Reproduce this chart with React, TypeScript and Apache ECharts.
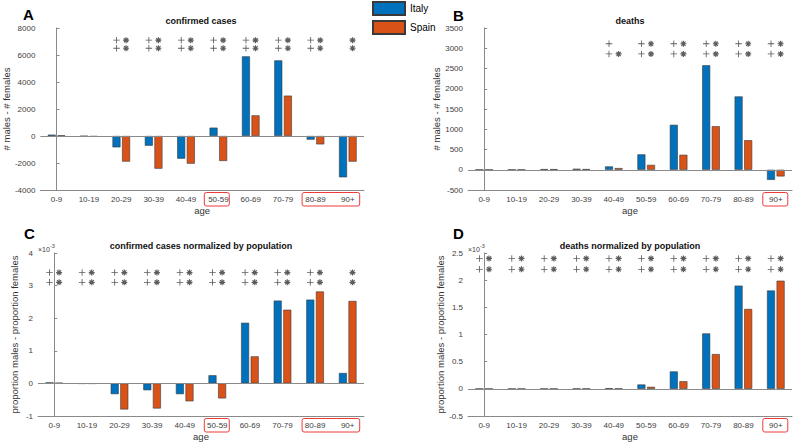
import React, { useEffect, useRef } from 'react';
import * as echarts from 'echarts';

// ---------- data ----------
const ageGroups = ['0-9', '10-19', '20-29', '30-39', '40-49', '50-59', '60-69', '70-79', '80-89', '90+'];
const seriesNames = ['Italy', 'Spain'];

// A: confirmed cases (# males - # females)
const casesItaly = [100, -20, -840, -720, -1680, 620, 5900, 5600, -270, -3060];
const casesSpain = [50, -50, -1900, -2420, -2050, -1850, 1530, 2990, -620, -1900];
const casesTicks = [-4000, -2000, 0, 2000, 4000, 6000, 8000];
const casesSigTop = ['', '', '+*', '+*', '+*', '+*', '+*', '+*', '+*', '*'];
const casesSigBottom = ['', '', '+*', '+*', '+*', '+*', '+*', '+*', '+*', '*'];
const casesSigLevels = [7100, 6500];

// B: deaths (# males - # females)
const deathsItaly = [0, 0, 15, 25, 82, 380, 1110, 2580, 1810, -250];
const deathsSpain = [0, 0, 15, 16, 41, 120, 370, 1075, 730, -165];
const deathsTicks = [-500, 0, 500, 1000, 1500, 2000, 2500, 3000, 3500];
const deathsSigTop = ['', '', '', '', '+', '+*', '+*', '+*', '+*', '+*'];
const deathsSigBottom = ['', '', '', '', '+*', '+*', '+*', '+*', '+*', '+*'];
const deathsSigLevels = [3110, 2860];

// C: confirmed cases normalized by population (x10^-3)
const casesNormItaly = [0.03, -0.01, -0.33, -0.21, -0.33, 0.25, 1.86, 2.54, 2.57, 0.32];
const casesNormSpain = [0.02, -0.01, -0.8, -0.77, -0.55, -0.46, 0.83, 2.26, 2.82, 2.53];
const casesNormTicks = [-1, 0, 1, 2, 3, 4];
const casesNormSigTop = ['+*', '+*', '+*', '+*', '+*', '+*', '+*', '+*', '+*', '*'];
const casesNormSigBottom = ['+*', '+*', '+*', '+*', '+*', '+*', '+*', '+*', '+*', '*'];
const casesNormSigLevels = [3.4, 3.1];

// D: deaths normalized by population (x10^-3)
const deathsNormItaly = [0, 0, 0.001, 0.003, 0.012, 0.08, 0.32, 1.02, 1.9, 1.81];
const deathsNormSpain = [0, 0, 0.001, 0.002, 0.004, 0.037, 0.14, 0.64, 1.47, 1.99];
const deathsNormTicks = [-0.5, 0, 0.5, 1, 1.5, 2, 2.5];
const deathsNormSigTop = ['+*', '+*', '+*', '+*', '+*', '+*', '+*', '+*', '+*', '+*'];
const deathsNormSigBottom = ['+*', '+*', '+*', '+*', '+*', '+*', '+*', '+*', '+*', '+*'];
const deathsNormSigLevels = [2.4, 2.2];

// ---------- styles ----------
const FONT = "'Liberation Sans', Arial, Helvetica, sans-serif";
const BLUE = '#0072BD';
const ORANGE = '#D95319';
const AXIS = '#8a8a8a';
const LABEL = '#404040';
const BAR_W = 8;
const BAR_GAP = 1.6;

function starPath(t: number, angles: number[]) {
  const parts: string[] = [];
  for (const a of angles) {
    const r = (a * Math.PI) / 180;
    const c = Math.cos(r);
    const s = Math.sin(r);
    const pts = [
      [-5, -t / 2],
      [5, -t / 2],
      [5, t / 2],
      [-5, t / 2],
    ].map(([x, y]) => [5 + x * c - y * s, 5 + x * s + y * c]);
    parts.push('M' + pts.map((p) => p[0].toFixed(3) + ',' + p[1].toFixed(3)).join('L') + 'Z');
  }
  return 'path://' + parts.join('');
}
const PLUS = starPath(1.3, [0, 90]);
const ASTER = starPath(1.9, [0, 45, 90, 135]);

const panels = [
  {
    letter: 'A', title: 'confirmed cases', italy: casesItaly, spain: casesSpain, ticks: casesTicks,
    sigTop: casesSigTop, sigBottom: casesSigBottom, levels: casesSigLevels,
    yName: '# males - # females', grid: { left: 38, top: 28, width: 326, height: 162 },
    nameGap: 20, letterPos: [23, 14.5], boxes: [[5, 5], [8, 9]], exp: false,
  },
  {
    letter: 'B', title: 'deaths', italy: deathsItaly, spain: deathsSpain, ticks: deathsTicks,
    sigTop: deathsSigTop, sigBottom: deathsSigBottom, levels: deathsSigLevels,
    yName: '# males - # females', grid: { left: 468, top: 28, width: 324, height: 162 },
    nameGap: 22, letterPos: [453, 15.5], boxes: [[9, 9]], exp: false,
  },
  {
    letter: 'C', title: 'confirmed cases normalized by population', italy: casesNormItaly, spain: casesNormSpain,
    ticks: casesNormTicks, sigTop: casesNormSigTop, sigBottom: casesNormSigBottom, levels: casesNormSigLevels,
    yName: 'proportion males - proportion females', grid: { left: 38, top: 253, width: 326, height: 163 },
    nameGap: 19, letterPos: [24, 233], boxes: [[5, 5], [8, 9]], exp: true,
  },
  {
    letter: 'D', title: 'deaths normalized by population', italy: deathsNormItaly, spain: deathsNormSpain,
    ticks: deathsNormTicks, sigTop: deathsNormSigTop, sigBottom: deathsNormSigBottom, levels: deathsNormSigLevels,
    yName: 'proportion males - proportion females', grid: { left: 468, top: 253, width: 324, height: 163 },
    nameGap: 19, letterPos: [453, 233], boxes: [[9, 9]], exp: true,
  },
];

function buildOption() {
  const grids: any[] = [];
  const xAxes: any[] = [];
  const yAxes: any[] = [];
  const series: any[] = [];
  const graphic: any[] = [];

  panels.forEach((p, k) => {
    grids.push({ ...p.grid, containLabel: false });
    const catW = p.grid.width / ageGroups.length;
    const off = (BAR_W + BAR_GAP) / 2 / catW;

    xAxes.push({
      type: 'category', gridIndex: k, data: ageGroups,
      axisLine: { onZero: false, lineStyle: { color: AXIS, width: 1 } },
      axisTick: { alignWithLabel: true, inside: true, length: 3, lineStyle: { color: AXIS } },
      axisLabel: { interval: 0, fontSize: 8, color: LABEL, margin: 5, fontFamily: FONT },
      splitLine: { show: false },
      name: 'age', nameLocation: 'middle', nameGap: 15,
      nameTextStyle: { fontSize: 9.5, color: '#333', fontFamily: FONT },
    });
    xAxes.push({ type: 'value', gridIndex: k, min: -0.5, max: ageGroups.length - 0.5, show: false });

    const t = p.ticks;
    yAxes.push({
      type: 'value', gridIndex: k, min: t[0], max: t[t.length - 1], interval: t[1] - t[0],
      axisLine: { show: true, lineStyle: { color: AXIS, width: 1 } },
      axisTick: { show: true, inside: true, length: 3, lineStyle: { color: AXIS } },
      splitLine: { show: false },
      axisLabel: { fontSize: 8, color: LABEL, margin: 5, fontFamily: FONT, formatter: (v: number) => String(v) },
      name: p.yName, nameLocation: 'middle', nameGap: p.nameGap,
      nameTextStyle: { fontSize: 9.5, color: '#333', fontFamily: FONT },
    });

    const barCommon = {
      type: 'bar', xAxisIndex: 2 * k, yAxisIndex: k, barWidth: BAR_W, barGap: (BAR_GAP / BAR_W) * 100 + '%',
      silent: true,
    };
    series.push({
      ...barCommon, name: seriesNames[0], data: p.italy,
      itemStyle: { color: BLUE, borderColor: '#3a3a3a', borderWidth: 0.6 },
      markLine: {
        silent: true, symbol: ['none', 'none'], label: { show: false },
        lineStyle: { color: AXIS, width: 1, type: 'solid' }, data: [{ yAxis: 0 }],
      },
    });
    series.push({
      ...barCommon, name: seriesNames[1], data: p.spain,
      itemStyle: { color: ORANGE, borderColor: '#3a3a3a', borderWidth: 0.6 },
    });

    const plusPts: number[][] = [];
    const starPts: number[][] = [];
    [p.sigTop, p.sigBottom].forEach((row, r) => {
      row.forEach((s, i) => {
        if (s.includes('+')) plusPts.push([i - off, p.levels[r]]);
        if (s.includes('*')) starPts.push([i + off, p.levels[r]]);
      });
    });
    series.push({
      type: 'scatter', name: 'sig+' + k, xAxisIndex: 2 * k + 1, yAxisIndex: k, data: plusPts,
      symbol: PLUS, symbolSize: 6.5, itemStyle: { color: '#333' }, silent: true,
    });
    series.push({
      type: 'scatter', name: 'sig*' + k, xAxisIndex: 2 * k + 1, yAxisIndex: k, data: starPts,
      symbol: ASTER, symbolSize: 6, itemStyle: { color: '#333' }, silent: true,
    });

    // title
    graphic.push({
      type: 'text', x: p.grid.left + p.grid.width / 2, y: p.grid.top - 7,
      style: {
        text: p.title, font: `bold 9px ${FONT}`, fill: '#111',
        align: 'center', verticalAlign: 'middle', textAlign: 'center', textVerticalAlign: 'middle',
      },
    });
    // panel letter
    graphic.push({
      type: 'text', x: p.letterPos[0], y: p.letterPos[1],
      style: {
        text: p.letter, font: `bold 15px ${FONT}`, fill: '#000',
        align: 'left', verticalAlign: 'middle', textAlign: 'left', textVerticalAlign: 'middle',
      },
    });
    // exponent
    if (p.exp) {
      graphic.push({
        type: 'text', x: p.grid.left, y: p.grid.top - 4,
        style: { text: '×10', font: `7px ${FONT}`, fill: LABEL, align: 'left', verticalAlign: 'middle', textAlign: 'left', textVerticalAlign: 'middle' },
      });
      graphic.push({
        type: 'text', x: p.grid.left + 12, y: p.grid.top - 7,
        style: { text: '-3', font: `5.5px ${FONT}`, fill: LABEL, align: 'left', verticalAlign: 'middle', textAlign: 'left', textVerticalAlign: 'middle' },
      });
    }
    // red highlight boxes around category labels
    p.boxes.forEach(([i0, i1]) => {
      const c0 = p.grid.left + (i0 + 0.5) * catW;
      const c1 = p.grid.left + (i1 + 0.5) * catW;
      const x0 = c0 - 13;
      const x1 = c1 + 12;
      graphic.push({
        type: 'rect',
        shape: { x: x0, y: p.grid.top + p.grid.height + 2.5, width: x1 - x0, height: 13.5, r: 2 },
        style: { fill: 'none', stroke: '#f03a3a', lineWidth: 1 },
        silent: true,
      });
    });
  });

  return {
    animation: false,
    backgroundColor: '#ffffff',
    legend: {
      data: seriesNames, orient: 'vertical', left: 372, top: 1, itemWidth: 32, itemHeight: 13, itemGap: 4,
      padding: 0, icon: 'rect', selectedMode: false,
      textStyle: { fontSize: 10, color: '#000', fontFamily: FONT },
    },
    grid: grids,
    xAxis: xAxes,
    yAxis: yAxes,
    series,
    graphic,
  };
}

export default function App() {
  const ref = useRef<HTMLDivElement>(null);
  useEffect(() => {
    if (!ref.current) return;
    const chart = echarts.init(ref.current, undefined, { renderer: 'svg' });
    chart.setOption(buildOption() as any);
    return () => chart.dispose();
  }, []);
  return (
    <div
      ref={ref}
      style={{ position: 'absolute', left: 0, top: 0, width: 796, height: 443, background: '#fff' }}
    />
  );
}
